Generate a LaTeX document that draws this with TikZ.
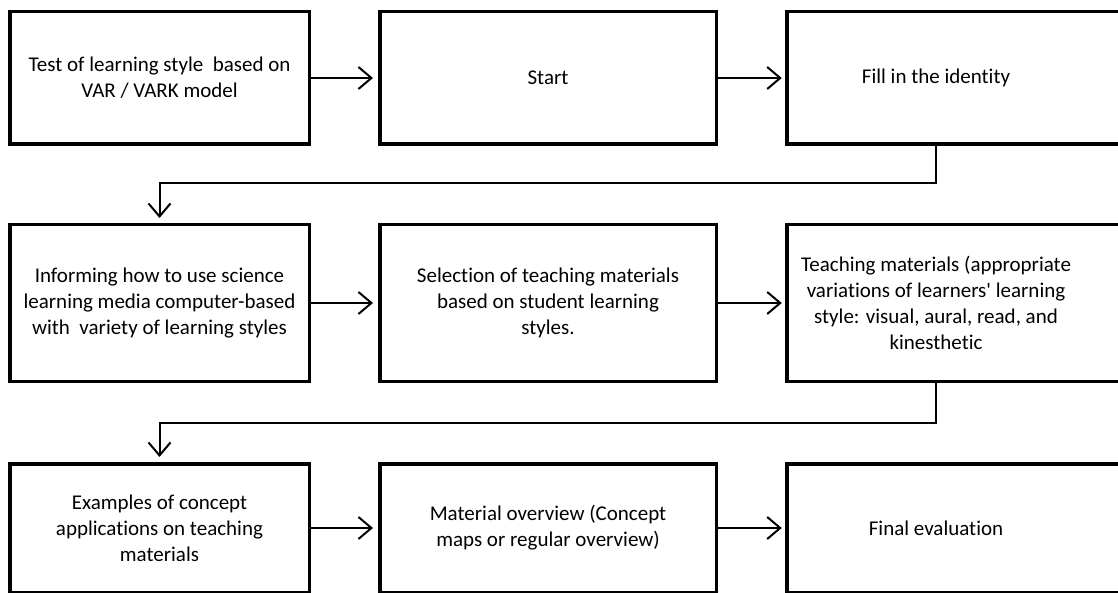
\documentclass[tikz,border=0pt]{standalone}
\usepackage{fontspec}
\setmainfont{Carlito}[Ligatures={NoCommon}]
\usetikzlibrary{positioning,arrows.meta}

\tikzset{
  stepbox/.style={rectangle, draw=black, fill=white, line width=3.5pt, text=black, align=center,
    inner sep=0pt, font=\fontsize{21}{26}\selectfont},
  openbox/.style={stepbox, draw=none, outer sep=0pt},
  frame/.style={line width=3.5pt},
  flow/.style={line width=2pt, shorten >=5pt, -{Straight Barb[length=13pt,width=22pt]}},
  wide1/.style={minimum width=299.5pt},
  wide2/.style={minimum width=336.5pt},
  wide3/.style={minimum width=298.5pt}
}

\begin{document}
\begin{tikzpicture}
                    \useasboundingbox (0,0) rectangle (1118pt,-593pt);
                    \clip (0,0) rectangle (1118pt,-593pt);
                    % row 1
                    \node (t1) [stepbox, wide1, minimum height=132.5pt] at (159.5pt,-78pt){
                    Test of learning style~ based on\\VAR / VARK model};
                    \node (t2) [stepbox, wide2, minimum height=132.5pt, right=67pt of t1]{
                    Start};
                    \node (t3) [openbox, wide3, minimum height=132.5pt, right=68.75pt of t2]{
                    Fill in the identity};
                    % row 2
                    \node (t4) [stepbox, wide1, minimum height=156.5pt, below=77pt of t1]{
                    Informing how to use science\\learning media computer-based\\with~ variety of learning styles};
                    \node (t5) [stepbox, wide2, minimum height=156.5pt, right=67pt of t4]{
                    Selection of teaching materials\\based on student learning\\styles.};
                    \node (t6) [openbox, wide3, minimum height=156.5pt, right=68.75pt of t5]{
                    Teaching materials (appropriate\\variations of learners\textquotesingle{} learning\\style: visual, aural, read, and\\kinesthetic};
                    % row 3
                    \node (t7) [stepbox, wide1, minimum height=128.5pt, below=79pt of t4]{
                    Examples of concept\\applications on teaching\\materials};
                    \node (t8) [stepbox, wide2, minimum height=128.5pt, right=67pt of t7]{
                    Material overview (Concept\\maps or regular overview)};
                    \node (t9) [openbox, wide3, minimum height=128.5pt, right=68.75pt of t8]{
                    Final evaluation};
                    % right column, open at the page edge
                    \foreach \n in {t3,t6,t9}
                        \draw[frame] ([xshift=60pt]\n.north east) -- (\n.north west) -- (\n.south west) -- ([xshift=60pt]\n.south east);
                \draw[flow] (t1) -- (t2);
                \draw[flow] (t2) -- (t3);
                \draw[flow] (t4) -- (t5);
                \draw[flow] (t5) -- (t6);
                \draw[flow] (t7) -- (t8);
                \draw[flow] (t8) -- (t9);
                \draw[flow] (t3.south) -- ++(0,-38.75pt) -| (t4.north);
                \draw[flow] (t6.south) -- ++(0,-41.75pt) -| (t7.north);
            \end{tikzpicture}
\end{document}
